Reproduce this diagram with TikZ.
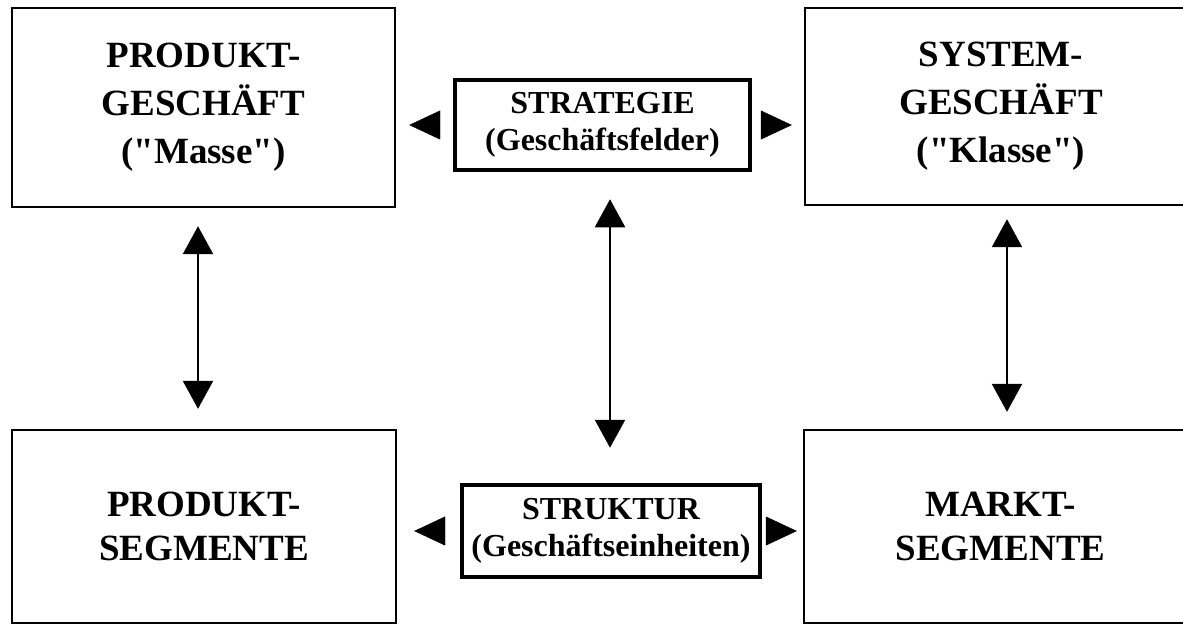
\documentclass[tikz,border=0pt]{standalone}
\usepackage{fontspec}
\setmainfont{Liberation Serif}[Ligatures=TeXOff]
\usetikzlibrary{arrows.meta,calc}
\begin{document}
\begin{tikzpicture}[x=1pt,y=-1pt,
  outerbox/.style={draw, line width=2.4pt, inner sep=0pt, align=center,
    font=\fontsize{37}{48}\selectfont\bfseries},
  lowerbox/.style={outerbox, font=\fontsize{37}{44}\selectfont\bfseries},
  corebox/.style={draw, line width=4.5pt, inner sep=0pt, align=center,
    font=\fontsize{32}{37}\selectfont\bfseries},
  headonly/.style={-{Triangle[length=31pt,width=29pt]}},
  twoway/.style={line width=2.4pt,
    {Triangle[length=28pt,width=30pt]}-{Triangle[length=28pt,width=30pt]}}
]
\useasboundingbox (0,0) rectangle (1183,625);
\clip (0,0) rectangle (1183,625);
\fill[white] (0,0) rectangle (1183,625);

% four outer fields
\node[outerbox, minimum width=383pt, minimum height=199pt] (pg) at (203.5,107.5)
  {PRODUKT-\\GESCHÄFT\\("Masse")};
\node[outerbox, minimum width=392pt, minimum height=197pt] (sg) at (1001,106.5)
  {SYSTEM-\\GESCHÄFT\\("Klasse")};
\node[lowerbox, minimum width=384pt, minimum height=193pt] (ps) at (204,526.5)
  {PRODUKT-\\SEGMENTE};
\node[lowerbox, minimum width=393pt, minimum height=193pt] (ms) at (1000.5,526.5)
  {MARKT-\\SEGMENTE};

% central fields
\node[corebox, minimum width=295pt, minimum height=90pt] (strat) at (602.5,125)
  {STRATEGIE\\(Geschäftsfelder)};
\node[corebox, minimum width=298pt, minimum height=92pt] (struk) at (611,531)
  {STRUKTUR\\(Geschäftseinheiten)};

% arrowheads pointing outwards from the central fields
\draw[headonly, shorten <=15pt, shorten >=13pt] (strat.west) -- (strat.west -| pg.east);
\draw[headonly, shorten <=12pt, shorten >=12pt] (strat.east) -- (strat.east -| sg.west);
\draw[headonly, shorten <=17pt, shorten >=17pt] (struk.west) -- (struk.west -| ps.east);
\draw[headonly, shorten <=7pt, shorten >=6pt] (struk.east) -- (struk.east -| ms.west);

% vertical double arrows
\draw[twoway, shorten <=18pt, shorten >=20pt]
  ([xshift=-5.5pt]pg.south) -- ([xshift=-5.5pt]pg.south |- ps.north);
\draw[twoway, shorten <=27pt, shorten >=35pt]
  ([xshift=-1pt]struk.north |- strat.south) -- ([xshift=-1pt]struk.north);
\draw[twoway, shorten <=13pt, shorten >=17pt]
  ([xshift=6pt]sg.south) -- ([xshift=6pt]sg.south |- ms.north);
\end{tikzpicture}
\end{document}
